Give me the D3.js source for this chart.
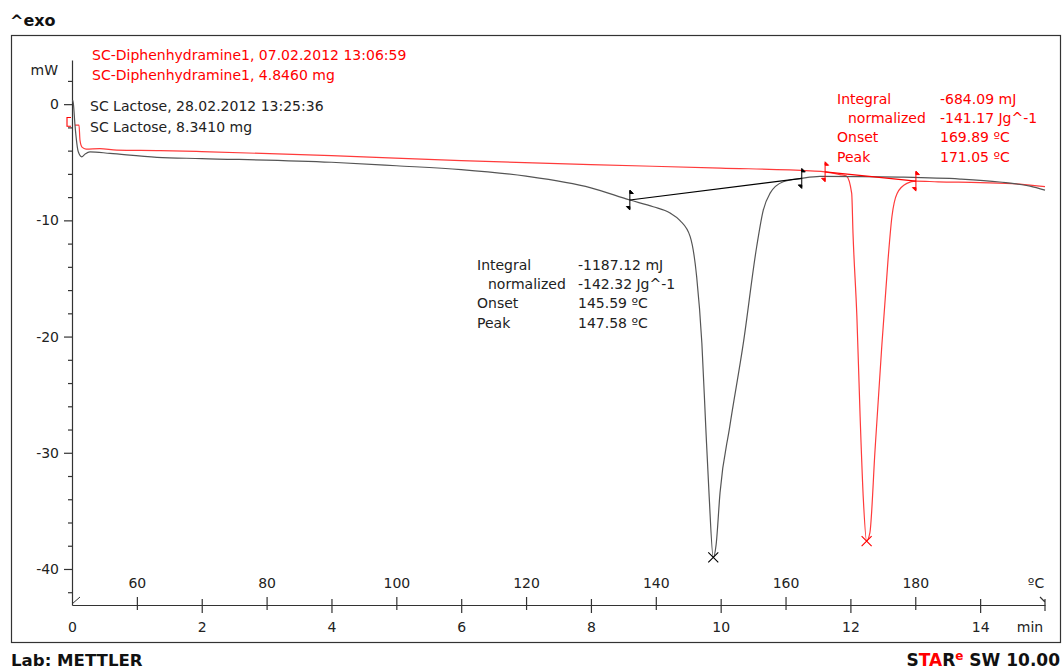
<!DOCTYPE html>
<html>
<head>
<meta charset="utf-8">
<script src="https://cdn.jsdelivr.net/npm/d3@7"></script>
<style>
  html, body { margin: 0; padding: 0; background: #fff; }
  svg { display: block; }
  text { font-family: 'DejaVu Sans', Verdana, sans-serif; }
</style>
</head>
<body>
<svg id="chart" width="1063" height="669"></svg>
<script>
// ---- DSC measurement data (time in min, heat flow in mW) ----
const lactoseTime = [0.008, 0.02, 0.046, 0.097, 0.15, 0.2, 0.277, 0.586, 1.31, 2, 4, 5, 6, 7, 8, 8.6,
  8.96, 9.22, 9.37, 9.53, 9.63, 9.71, 9.77, 9.82, 9.886, 9.93, 9.99, 10.14, 10.35, 10.555, 10.657,
  10.76, 10.965, 11.25, 11.53, 12.15, 12.76, 13.69, 14.3, 14.77, 15];
const lactoseMW = [0.35, 0.1, -1.8, -4.1, -4.53, -4.3, -4.1, -4.24, -4.58, -4.68, -5.0, -5.3, -5.63, -6.2, -7.2, -8.25,
  -8.83, -9.37, -10.0, -11.4, -14.85, -20.55, -27.75, -33.45, -39.0, -37.9, -33.45, -27.75, -20.55, -12.27, -9.11,
  -7.68, -6.68, -6.39, -6.22, -6.23, -6.28, -6.45, -6.7, -7.05, -7.4];

const diphenTime = [0.046, 0.108, 0.123, 0.154, 0.216, 0.43, 0.69, 1.36, 2, 4, 6, 8, 10, 11.38, 11.61,
  11.84, 11.94, 12.02, 12.04, 12.1, 12.15, 12.2, 12.25, 12.3, 12.38, 12.48, 12.58, 12.64, 12.72,
  12.87, 13.01, 13.35, 14, 14.61, 15];
const diphenMW = [-1.8, -1.8, -3.1, -3.7, -3.87, -3.83, -3.96, -4.0, -4.08, -4.43, -4.86, -5.2, -5.5, -5.74, -5.82,
  -6.06, -6.19, -7.68, -11.1, -18.3, -26.9, -34.05, -37.6, -36.9, -29.75, -21.15, -13.4, -9.69, -7.68,
  -6.82, -6.62, -6.68, -6.75, -6.88, -7.1];

// integration limits [time, mW] and peak positions
const lactoseLimits = [[8.6, -8.25], [11.25, -6.39]];
const diphenLimits = [[11.61, -5.82], [13.01, -6.62]];
const lactosePeak = [9.886, -39.0];
const diphenPeak = [12.25, -37.6];

// axis ticks
const yMajorTicks = [0, -10, -20, -30, -40];
const yMinorTicks = [2, -2, -4, -6, -8, -12, -14, -16, -18, -22, -24, -26, -28, -32, -34, -36, -38, -42];
const timeTicks = [0, 2, 4, 6, 8, 10, 12, 14];
const tempTicks = [60, 80, 100, 120, 140, 160, 180];

// legend and evaluation texts
const legendDiphen = ["SC-Diphenhydramine1, 07.02.2012 13:06:59", "SC-Diphenhydramine1, 4.8460 mg"];
const legendLactose = ["SC Lactose, 28.02.2012 13:25:36", "SC Lactose, 8.3410 mg"];
const evalLabels = ["Integral", "normalized", "Onset", "Peak"];
const evalLactose = ["-1187.12 mJ", "-142.32 Jg^-1", "145.59 ºC", "147.58 ºC"];
const evalDiphen = ["-684.09 mJ", "-141.17 Jg^-1", "169.89 ºC", "171.05 ºC"];

// ---- layout ----
const svg = d3.select("#chart");
const RED = "#ff0000", CURVE_RED = "#ff3b3b", GREY = "#555", INK = "#222";
const FS = 14;
const plain = d => String(d);   // hyphen-minus labels

const x = d3.scaleLinear().domain([0, 15]).range([72, 1045]);
const temp = d3.scaleLinear().domain([50, 200]).range([72, 1045]);   // 10 K/min from 50 °C
const y = d3.scaleLinear().domain([-43.1, 3.8]).range([605, 60]);

// outer frame
svg.append("rect").attr("x", 11.5).attr("y", 35.5).attr("width", 1049).attr("height", 607)
  .attr("fill", "none").attr("stroke", "#333").attr("stroke-width", 1.2);

// titles
svg.append("text").attr("x", 10).attr("y", 26).attr("font-size", 16).attr("font-weight", "bold")
  .attr("fill", "#111").text("^exo");
svg.append("text").attr("x", 11).attr("y", 666).attr("font-size", 16.6).attr("font-weight", "bold")
  .attr("fill", "#111").text("Lab: METTLER");
const star = svg.append("text").attr("x", 1060).attr("y", 666).attr("text-anchor", "end")
  .attr("font-size", 17).attr("font-weight", "bold").attr("fill", "#111");
star.append("tspan").text("S");
star.append("tspan").attr("fill", RED).text("TA");
star.append("tspan").text("R");
star.append("tspan").attr("fill", RED).attr("font-size", 12).attr("dy", -6).text("e");
star.append("tspan").attr("dy", 6).text(" SW 10.00");

// ---- y axis ----
const yAxisMajor = svg.append("g").attr("transform", "translate(72,0)")
  .call(d3.axisLeft(y).tickValues(yMajorTicks).tickSize(8).tickSizeOuter(0).tickPadding(5).tickFormat(plain));
const yAxisMinor = svg.append("g").attr("transform", "translate(72,0)")
  .call(d3.axisLeft(y).tickValues(yMinorTicks).tickSize(4).tickSizeOuter(0).tickFormat(""));
[yAxisMajor, yAxisMinor].forEach(g => {
  g.selectAll("path, line").attr("stroke", "#333").attr("stroke-width", 1.2);
  g.selectAll("text").attr("font-size", FS).attr("fill", INK).attr("font-family", "'DejaVu Sans', sans-serif");
});
yAxisMinor.select(".domain").remove();
svg.append("text").attr("x", 58).attr("y", 75).attr("text-anchor", "end").attr("font-size", FS)
  .attr("fill", INK).text("mW");

// ---- x axes (time below, temperature above) ----
const xAxisY = 605;
const timeAxis = svg.append("g").attr("transform", `translate(0,${xAxisY})`)
  .call(d3.axisBottom(x).tickValues(timeTicks).tickSizeOuter(0).tickFormat(plain));
timeAxis.select(".domain").attr("stroke", "#333").attr("stroke-width", 1.2);
timeAxis.selectAll(".tick line").attr("y1", -6).attr("y2", 8).attr("stroke", "#333").attr("stroke-width", 1.2)
  .filter(d => d === 0).remove();
timeAxis.selectAll(".tick text").attr("y", 27).attr("dy", 0).attr("font-size", FS).attr("fill", INK)
  .attr("font-family", "'DejaVu Sans', sans-serif");

const tempAxis = svg.append("g").attr("transform", `translate(0,${xAxisY})`)
  .call(d3.axisTop(temp).tickValues(tempTicks).tickSizeOuter(0).tickFormat(plain));
tempAxis.select(".domain").remove();
tempAxis.selectAll(".tick line").attr("y1", -8).attr("y2", 5).attr("stroke", "#333").attr("stroke-width", 1.2);
tempAxis.selectAll(".tick text").attr("y", -17).attr("dy", 0).attr("font-size", FS).attr("fill", INK)
  .attr("font-family", "'DejaVu Sans', sans-serif");

svg.append("text").attr("x", x(15) - 9).attr("y", xAxisY - 17).attr("text-anchor", "middle")
  .attr("font-size", FS).attr("fill", INK).text("ºC");
svg.append("text").attr("x", x(15) - 15).attr("y", xAxisY + 27).attr("text-anchor", "middle")
  .attr("font-size", FS).attr("fill", INK).text("min");

// axis end marks
svg.append("path").attr("d", `M${x(0)},${xAxisY - 1}l8,-7`).attr("stroke", "#333").attr("fill", "none");
svg.append("path").attr("d", `M${x(15) - 5},${xAxisY - 8}l5,5M${x(15)},${xAxisY - 6}v12`)
  .attr("stroke", "#333").attr("fill", "none").attr("stroke-width", 1.2);

// ---- curves ----
const line = d3.line().x(d => x(d[0])).y(d => y(d[1])).curve(d3.curveMonotoneX);
const lactose = lactoseTime.map((t, i) => [t, lactoseMW[i]]);
const diphen = diphenTime.map((t, i) => [t, diphenMW[i]]);

svg.append("path").datum(diphen).attr("d", line).attr("fill", "none")
  .attr("stroke", CURVE_RED).attr("stroke-width", 1.2);
svg.append("path").datum(lactose).attr("d", line).attr("fill", "none")
  .attr("stroke", GREY).attr("stroke-width", 1.2);

// start bracket on the red trace
svg.append("path")
  .attr("d", `M${x(0) - 1},${y(-1.15)}H${x(0) - 5}V${y(-1.9)}H${x(0) - 1}`)
  .attr("fill", "none").attr("stroke", RED).attr("stroke-width", 1.1);

// integration baselines
function baseline(limits, color) {
  svg.append("line")
    .attr("x1", x(limits[0][0])).attr("y1", y(limits[0][1]))
    .attr("x2", x(limits[1][0])).attr("y2", y(limits[1][1]))
    .attr("stroke", color).attr("stroke-width", 1.2);
  limits.forEach(([t, v]) => {
    const px = x(t), py = y(v);
    svg.append("line").attr("x1", px).attr("x2", px).attr("y1", py - 9).attr("y2", py + 9)
      .attr("stroke", color).attr("stroke-width", 1);
    svg.append("path").attr("d", `M${px},${py - 10}l3.5,3.5l-3.5,0Z`).attr("fill", color).attr("stroke", color);
    svg.append("path").attr("d", `M${px},${py + 10}l-3.5,-3.5l3.5,0Z`).attr("fill", color).attr("stroke", color);
  });
}
baseline(lactoseLimits, "#000");
baseline(diphenLimits, RED);

// peak crosses
function peakCross(p, color) {
  const px = x(p[0]), py = y(p[1]);
  svg.append("path").attr("d", `M${px - 5},${py - 5}L${px + 5},${py + 5}M${px - 5},${py + 5}L${px + 5},${py - 5}`)
    .attr("stroke", color).attr("stroke-width", 1.1);
}
peakCross(lactosePeak, "#000");
peakCross(diphenPeak, RED);

// ---- legend ----
legendDiphen.forEach((s, i) => {
  svg.append("text").attr("x", 92).attr("y", 60 + i * 20).attr("font-size", FS).attr("fill", RED).text(s);
});
legendLactose.forEach((s, i) => {
  svg.append("text").attr("x", 90).attr("y", 111 + i * 20.5).attr("font-size", FS).attr("fill", INK).text(s);
});

// ---- evaluation results ----
function evalBlock(x0, xv, y0, vals, color) {
  evalLabels.forEach((lab, i) => {
    svg.append("text").attr("x", lab === "normalized" ? x0 + 11 : x0).attr("y", y0 + i * 19.2)
      .attr("font-size", FS).attr("fill", color).text(lab);
    svg.append("text").attr("x", xv).attr("y", y0 + i * 19.2)
      .attr("font-size", FS).attr("fill", color).text(vals[i]);
  });
}
evalBlock(477, 578, 270, evalLactose, INK);
evalBlock(837, 940, 104, evalDiphen, RED);
</script>
</body>
</html>
